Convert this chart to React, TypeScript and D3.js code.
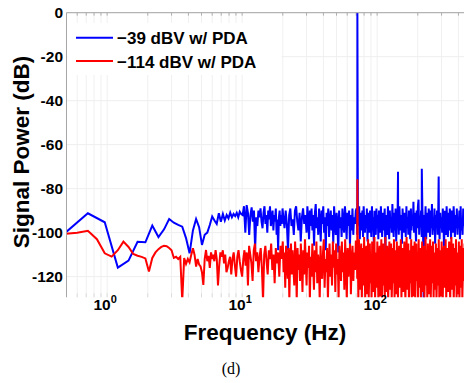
import React from 'react';
import * as d3 from 'd3';

const W = 464;
const H = 383;

// ---- data ----
// Blue (−39 dBV): FFT bins of 0.24 Hz starting at bin 2 (0.48 Hz … 19.92 Hz)
const blueLowStep = 0.24;
const blueLowStartBin = 2;
const blueLow = [
  -100.5, -91.2, -95.3, -115.9, -112.7, -104.2, -104.4, -96.8, -102.0, -98.5,
  -93.8, -95.5, -96.5, -97.3, -102.5, -109.4, -99.0, -93.8, -97.5, -105.6,
  -101.0, -100.0, -96.5, -92.7, -94.5, -96.0, -91.2, -95.0, -91.5, -94.5,
  -92.0, -93.5, -90.9, -93.0, -91.5, -92.5, -91.0, -93.0, -90.5, -91.5,
  -92, -88, -100, -87.5, -91, -101, -92, -88.5, -95, -90,
  -107.5, -93, -97, -90, -93, -89, -95, -98, -91, -88,
  -96, -92, -100, -90, -94, -88, -97, -93, -90, -99,
  -92, -95, -89, -101, -94, -108, -93, -90, -97, -92,
  -96, -89,
];
// Blue dense part, read band by band (each band spread evenly in log frequency)
const blueBandEdges = [20.2, 30, 70.5, 500];
const blue20to30 = [
  -93, -98, -90, -96, -108, -92, -89, -97, -94, -101, -90, -88, -95, -99, -91, -104, -93, -89, -96, -92,
];
const blue30to70 = [
  -100, -88, -94, -103, -90, -97, -89, -99, -92, -106, -91, -87, -98, -93, -101, -89, -95, -104, -90, -96,
  -88, -100, -93, -108, -91, -97, -89, -102, -94, -90, -99, -92, -105, -88, -96, -101, -91, -95, -109, -90,
  -98, -93, -102, -89, -96, -100, -88, -94, -103, -91, -97, -90, -106, -92, -99, -89, -101, -93, -96, -90,
];
const blue70to500 = [
  -89, -101, -93, -97, -88, -103, -91, -99, -95, -90, -102, -88, -96, -100, -92, -98, -89, -104, -91, -97,
  -100, -90, -95, -102, -88, -99, -93, -106, -90, -96, -101, -89, -98, -92, -103, -90, -95, -100, -88, -97,
  -102, -91, -99, -94, -89, -110, -92, -97, -101, -88, -95, -103, -90, -98, -93, -100, -87, -96, -102, -91,
  -99, -89, -104, -93, -97, -90, -101, -88, -95, -99, -92, -105, -89, -97, -100, -91, -94, -102, -88, -98,
  -93, -101, -90, -96, -103, -89, -99, -92, -97, -86, -100, -91, -95, -104, -90, -98, -88, -85, -101, -93,
  -97, -90, -102, -89, -96, -131, -92, -99, -88, -103, -91, -97, -100, -89, -95, -102, -90, -98, -87, -101,
  -94, -99, -89, -105, -92, -97, -90, -101, -88, -96, -103, -91, -98, -93, -100, -89, -95, -108, -90, -97,
  -101, -88, -96, -102, -91, -99, -89, -94, -103, -90, -97, -100, -88, -95, -102, -92, -98, -89, -101, -93,
  -96, -90, -103, -88, -99, -94, -101, -89, -97, -92, -100, -88, -95, -104, -91, -98, -90, -102, -89, -96,
];
const blueSpikeFreqs = [71.4, 142.8, 214.2, 285.6];
const blueSpikeValues = [0, -72.3, -71, -74.5];

// Red (−114 dBV): FFT bins of 0.12 Hz starting at bin 4 (0.48 Hz … 6.0 Hz)
const redLowStep = 0.12;
const redLowStartBin = 4;
const redLow = [
  -100.6, -100.0, -99.2, -103.0, -109.4, -110.9, -108.0, -104.1, -106.5, -109.7,
  -110.5, -111.0, -111.7, -117.7, -111.5, -109.0, -107.5, -106.5, -106.0, -106.2,
  -107.0, -108.0, -111.5, -111.0, -112.0, -111.0, -131.0, -111.6, -114.2, -112.0,
  -113.5, -110.0, -107.1, -110.0, -115.4, -112.0, -114.5, -115.4, -118.0, -123.8,
  -112.0, -107.9, -113.0, -110.5, -116.0, -109.0, -112.0,
];
const redBandEdges = [6.1, 10, 20, 70.5, 500];
const red6to10 = [
  -110, -113, -108, -112, -124, -115, -109, -111, -108, -114, -110, -118, -116, -113, -111, -119, -112, -109, -115, -120,
  -111, -108, -113, -117,
];
const red10to20 = [
  -120, -112, -108, -115, -109, -124, -106, -110, -114, -122, -108, -105, -113, -109, -118, -111, -107, -116, -131, -110,
  -106, -113, -119, -108, -112, -105, -117, -110, -123, -107, -114, -109, -120, -106, -112,
];
const red20to70 = [
  -104, -118, -109, -125, -106, -113, -121, -107, -131, -111, -105, -119, -108, -116, -124, -104, -112, -131, -107, -117,
  -110, -122, -105, -114, -127, -108, -119, -103, -113, -124, -109, -116, -106, -131, -111, -120, -105, -115, -126, -108,
  -118, -104, -123, -110, -114, -131, -106, -117, -121, -109, -103, -125, -112, -118, -107, -131, -113, -105, -120, -110,
  -124, -104, -116, -108, -127, -105, -119, -112, -131, -106, -115, -122, -104, -118, -109, -126, -103, -114, -131, -107,
  -120, -111, -105, -128, -113, -106, -122, -109, -117, -104,
];
const red70to500 = [
  -104, -121, -108, -131, -103, -117, -126, -110, -105, -131, -114, -107, -124, -102, -119, -131, -109, -106, -128, -112,
  -103, -131, -118, -105, -123, -111, -131, -104, -120, -127, -107, -102, -131, -116, -109, -125, -104, -121, -131, -110,
  -106, -129, -113, -103, -131, -119, -105, -124, -108, -131, -102, -116, -127, -106, -122, -131, -111, -104, -126, -115,
  -105, -131, -120, -107, -123, -103, -131, -114, -108, -128, -104, -121, -131, -110, -106, -125, -117, -103, -131, -112,
  -107, -127, -119, -104, -124, -131, -109, -102, -126, -114, -105, -131, -121, -108, -123, -103, -131, -116, -106, -129,
  -111, -104, -131, -118, -105, -122, -109, -131, -103, -125, -113, -107, -131, -120, -104, -127, -110, -106, -131, -115,
  -102, -124, -108, -131, -105, -119, -128, -111, -103, -131, -117, -106, -123, -104, -131, -113, -109, -126, -105, -131,
  -120, -107, -124, -103, -131, -115, -108, -129, -104, -121, -131, -110, -106, -125, -118, -103, -131, -112, -107, -127,
  -119, -104, -123, -131, -108, -102, -126, -114, -105, -131, -121, -107, -124, -103, -131, -116, -109, -128, -104, -131,
  -113, -106, -125, -103, -131, -118, -107, -122, -105, -131, -111, -104, -127, -116, -106, -131, -120, -103, -124, -110,
];
const redSpikeFreqs = [71.4];
const redSpikeValues = [-75.7];

const yTicks = [0, -20, -40, -60, -80, -100, -120];
const xTickExponents = [0, 1, 2];
const legendLabels = ['\u221239 dBV w/ PDA', '\u2212114 dBV w/ PDA'];
const seriesColors = ['#0000ff', '#ff0000'];

// ---- layout ----
const plotLeft = 66.5;
const plotRight = 471.5;
const plotTop = 12.7;
const plotBottom = 297.3;
const FONT = '"Liberation Sans", Arial, Helvetica, sans-serif';

type Pt = { f: number; v: number };

function buildSeries(
  lowStep: number, lowStart: number, low: number[],
  edges: number[], bands: number[][],
  spikeF: number[], spikeV: number[]
): Pt[] {
  const pts: Pt[] = [];
  low.forEach((v, i) => pts.push({ f: (lowStart + i) * lowStep, v }));
  bands.forEach((vals, b) => {
    const pos = d3.scaleLinear().domain([0, vals.length]).range([Math.log10(edges[b]), Math.log10(edges[b + 1])]);
    vals.forEach((v, i) => pts.push({ f: Math.pow(10, pos(i)), v }));
  });
  spikeF.forEach((f, i) => pts.push({ f, v: spikeV[i] }));
  pts.sort((a, b) => a.f - b.f);
  return pts;
}

const blueSeries = buildSeries(blueLowStep, blueLowStartBin, blueLow, blueBandEdges,
  [blue20to30, blue30to70, blue70to500], blueSpikeFreqs, blueSpikeValues);
const redSeries = buildSeries(redLowStep, redLowStartBin, redLow, redBandEdges,
  [red6to10, red10to20, red20to70, red70to500], redSpikeFreqs, redSpikeValues);

export default function App() {
  const x = d3.scaleLog().domain([0.5, 500]).range([plotLeft, plotRight]);
  const y = d3.scaleLinear().domain([-129.4, 0]).range([plotBottom, plotTop]);
  const line = d3.line<Pt>().x(d => x(d.f)).y(d => y(d.v));

  const minorX: number[] = [];
  for (let e = -1; e <= 2; e++) {
    for (let m = 1; m <= 9; m++) {
      const f = m * Math.pow(10, e);
      if (f > 0.5 && f <= 500) minorX.push(f);
    }
  }

  return (
    <svg width={W} height={H} style={{ position: 'absolute', left: 0, top: 0, background: '#fff' }}>
      <defs>
        <clipPath id="plotClip">
          <rect x={plotLeft} y={plotTop - 1} width={plotRight - plotLeft} height={plotBottom - plotTop + 1} />
        </clipPath>
      </defs>
      <rect x={0} y={0} width={W} height={H} fill="#fff" />
      {/* grid */}
      {minorX.map((f, i) => (
        <line key={'gx' + i} x1={x(f)} x2={x(f)} y1={plotTop} y2={plotBottom} stroke="#f0f0f0" strokeWidth={1} />
      ))}
      {yTicks.map((t, i) => (
        <line key={'gy' + i} x1={plotLeft} x2={plotRight} y1={y(t)} y2={y(t)} stroke="#eeeeee" strokeWidth={1} />
      ))}
      {/* minor ticks top and bottom */}
      {minorX.map((f, i) => (
        <g key={'tk' + i}>
          <line x1={x(f)} x2={x(f)} y1={plotTop} y2={plotTop + 3} stroke="#b0b0b0" strokeWidth={1} />
          <line x1={x(f)} x2={x(f)} y1={plotBottom} y2={plotBottom - 4} stroke="#dcdcdc" strokeWidth={1} />
        </g>
      ))}
      {/* legend box */}
      <rect x={plotLeft + 1} y={23} width={214} height={52} fill="#fff" />
      {/* data */}
      <g clipPath="url(#plotClip)">
        <path d={line(blueSeries) || ''} fill="none" stroke={seriesColors[0]} strokeWidth={2} strokeLinejoin="miter" />
        <path d={line(redSeries) || ''} fill="none" stroke={seriesColors[1]} strokeWidth={2} strokeLinejoin="miter" />
      </g>
      {/* axes */}
      <line x1={plotLeft} x2={plotRight} y1={plotTop} y2={plotTop} stroke="#a6a6a6" strokeWidth={1} />
      <line x1={plotLeft} x2={plotLeft} y1={plotTop} y2={plotBottom} stroke="#a6a6a6" strokeWidth={1} />
      {yTicks.map((t, i) => (
        <text key={'yl' + i} x={63} y={y(t)} dy="0.36em" textAnchor="end" fontFamily={FONT} fontWeight="bold" fontSize={15.5} fill="#000">
          {t}
        </text>
      ))}
      {xTickExponents.map((e, i) => (
        <text key={'xl' + i} x={x(Math.pow(10, e)) - 2} y={310} textAnchor="middle" fontFamily={FONT} fontWeight="bold" fontSize={15.5} fill="#000">
          <tspan>10</tspan>
          <tspan dy={-7} fontSize={11}>{e}</tspan>
        </text>
      ))}
      <text x={265} y={340} textAnchor="middle" fontFamily={FONT} fontWeight="bold" fontSize={22.5} fill="#000">
        Frequency (Hz)
      </text>
      <text transform="translate(29,152) rotate(-90)" textAnchor="middle" fontFamily={FONT} fontWeight="bold" fontSize={22.5} fill="#000">
        Signal Power (dB)
      </text>
      {/* legend */}
      {legendLabels.map((lab, i) => (
        <g key={'lg' + i}>
          <line x1={76} x2={113} y1={37.7 + i * 23.3} y2={37.7 + i * 23.3} stroke={seriesColors[i]} strokeWidth={2} />
          <text x={117} y={44.3 + i * 23.3} fontFamily={FONT} fontWeight="bold" fontSize={17} fill="#000">
            {lab}
          </text>
        </g>
      ))}
      <text x={231} y={374} textAnchor="middle" fontFamily='"Liberation Serif", "Times New Roman", serif' fontSize={16} fill="#000">
        (d)
      </text>
    </svg>
  );
}
